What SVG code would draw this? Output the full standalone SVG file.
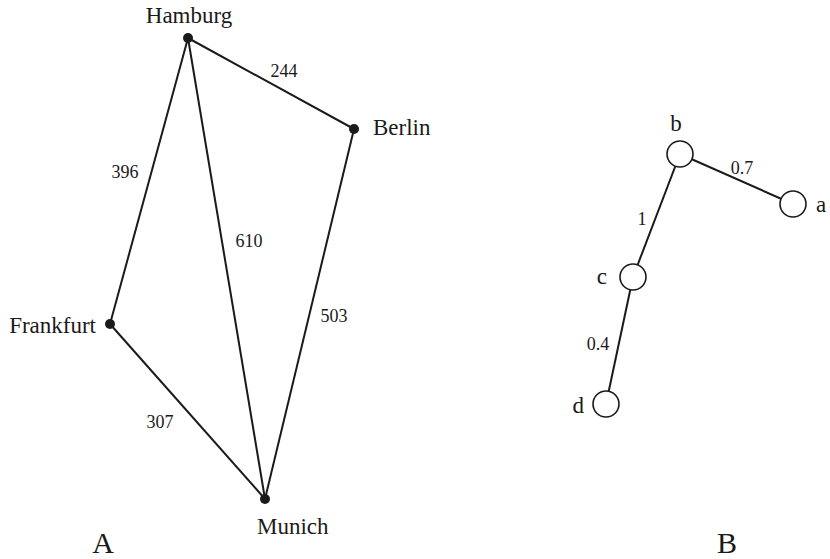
<svg xmlns="http://www.w3.org/2000/svg" width="830" height="559" viewBox="0 0 830 559">
<style>
.e{stroke:#1a1a1a;stroke-width:2;fill:none}
.t{font-family:"Liberation Serif",serif;fill:#1a1a1a}
.city{font-size:23px}
.w{font-size:18px}
.big{font-size:30px}
.dot{fill:#1a1a1a}
.circ{fill:#fff;stroke:#1a1a1a;stroke-width:1.6}
</style>
<rect width="830" height="559" fill="#fff"/>
<g id="connectors">
<line class="e" x1="188" y1="38" x2="354" y2="129"/>
<line class="e" x1="188" y1="38" x2="110" y2="324"/>
<line class="e" x1="188" y1="38" x2="265" y2="499"/>
<line class="e" x1="354" y1="129" x2="265" y2="499"/>
<line class="e" x1="110" y1="324" x2="265" y2="499"/>
<line class="e" x1="680" y1="154" x2="793" y2="204"/>
<line class="e" x1="680" y1="154" x2="633" y2="277"/>
<line class="e" x1="633" y1="277" x2="606" y2="404"/>
<text class="t w" x="284" y="77" text-anchor="middle">244</text>
<text class="t w" x="125" y="178" text-anchor="middle">396</text>
<text class="t w" x="249" y="247" text-anchor="middle">610</text>
<text class="t w" x="334" y="322" text-anchor="middle">503</text>
<text class="t w" x="160" y="428" text-anchor="middle">307</text>
<text class="t w" x="742" y="174" text-anchor="middle">0.7</text>
<text class="t w" x="642" y="225" text-anchor="middle">1</text>
<text class="t w" x="598" y="350" text-anchor="middle">0.4</text>
</g>
<g id="Hamburg"><circle class="dot" cx="188" cy="38" r="5"/><text class="t city" x="189" y="23" text-anchor="middle">Hamburg</text></g>
<g id="Berlin"><circle class="dot" cx="354" cy="129" r="5"/><text class="t city" x="373" y="135">Berlin</text></g>
<g id="Frankfurt"><circle class="dot" cx="110" cy="324" r="5"/><text class="t city" x="96" y="333" text-anchor="end">Frankfurt</text></g>
<g id="Munich"><circle class="dot" cx="265" cy="499" r="5"/><text class="t city" x="257" y="534">Munich</text></g>
<g id="labelA"><text class="t big" x="103" y="553" text-anchor="middle">A</text></g>
<g id="labelB"><text class="t big" x="727" y="553" text-anchor="middle">B</text></g>
<g id="b"><circle class="circ" cx="680" cy="154" r="13"/><text class="t city" x="676" y="131" text-anchor="middle">b</text></g>
<g id="a"><circle class="circ" cx="793" cy="204" r="13"/><text class="t city" x="816" y="212">a</text></g>
<g id="c"><circle class="circ" cx="633" cy="277" r="13"/><text class="t city" x="607" y="284" text-anchor="end">c</text></g>
<g id="d"><circle class="circ" cx="606" cy="404" r="13"/><text class="t city" x="584" y="413" text-anchor="end">d</text></g>
</svg>
